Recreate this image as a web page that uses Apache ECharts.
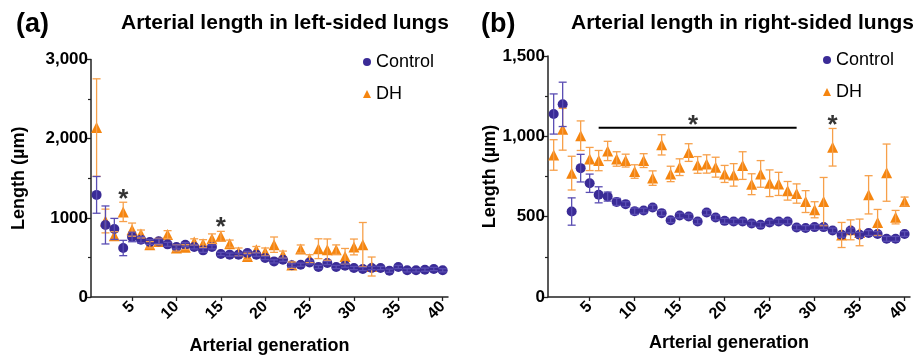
<!DOCTYPE html>
<html>
<head>
<meta charset="utf-8">
<script src="https://cdn.jsdelivr.net/npm/echarts@6/dist/echarts.min.js"></script>
<style>
  html, body { margin: 0; padding: 0; background: #fff; }
  #chart { width: 921px; height: 356px; }
</style>
</head>
<body>
<div id="chart"></div>
<script>
// arterial generations
const gens = [1, 2, 3, 4, 5, 6, 7, 8, 9, 10, 11, 12, 13, 14, 15, 16, 17, 18, 19, 20,
  21, 22, 23, 24, 25, 26, 27, 28, 29, 30, 31, 32, 33, 34, 35, 36, 37, 38, 39, 40];
const xTicks = [5, 10, 15, 20, 25, 30, 35, 40];

// (a) left-sided lungs
const leftControl = [1290, 910, 860, 619, 758, 724, 695, 703, 665, 632, 661, 632, 589, 632, 544, 535, 535, 556, 535, 493,
  450, 471, 400, 408, 437, 379, 430, 379, 396, 366, 354, 366, 366, 332, 379, 337, 337, 345, 354, 337];
const leftControlErr = [232, 240, 133, 97, 60, 40, 30, 30, 25, 25, 25, 25, 25, 25, 20, 20, 20, 20, 20, 20,
  20, 20, 20, 20, 20, 20, 20, 20, 20, 20, 20, 20, 20, 20, 20, 20, 20, 20, 20, 20];
const leftDH = [2140, 960, 775, 1075, 851, 796, 660, 700, 788, 620, 630, 695, 674, 737, 766, 674, 569, 513, 598, 569,
  661, 535, 403, 607, 484, 610, 598, 598, 513, 632, 661, 385];
const leftDHErr = [616, 150, 50, 122, 83, 50, 40, 40, 50, 40, 30, 40, 50, 60, 63, 45, 50, 40, 40, 50,
  97, 45, 40, 50, 50, 125, 135, 60, 100, 100, 280, 120];
const leftYLabels = { 0: '0', 1000: '1000', 2000: '2,000', 3000: '3,000' };
const leftStars = [[4, 1335], [15, 990]];

// (b) right-sided lungs
const rightControl = [1139, 1199, 532, 802, 708, 636, 625, 592, 578, 534, 538, 557, 522, 478, 507, 501, 470, 526, 495, 474,
  470, 470, 457, 449, 464, 470, 470, 433, 429, 435, 435, 414, 387, 414, 387, 398, 392, 362, 362, 392];
const rightControlErr = [125, 138, 85, 86, 57, 50, 28, 22, 15, 20, 15, 15, 15, 15, 15, 15, 15, 15, 15, 15,
  15, 15, 15, 15, 15, 15, 15, 15, 15, 15, 15, 15, 15, 15, 15, 15, 15, 15, 15, 15];
const rightDH = [884, 1044, 771, 1004, 859, 849, 909, 859, 849, 781, 849, 740, 947, 766, 808, 899, 822, 828, 808, 766,
  760, 818, 702, 766, 708, 704, 661, 644, 594, 543, 594, 932, 386, 418, 402, 636, 464, 774, 497, 594];
const rightDHErr = [95, 130, 105, 92, 72, 63, 60, 45, 40, 42, 43, 45, 63, 48, 52, 55, 52, 57, 62, 53,
  70, 86, 65, 83, 83, 72, 58, 60, 68, 50, 150, 117, 78, 62, 83, 119, 81, 178, 42, 28];
const rightYLabels = { 0: '0', 500: '500', 1000: '1,000', 1500: '1,500' };
const rightStars = [[16.5, 1119], [32, 1119]];
const rightBar = [[6, 1054], [28, 1054]];

const CONTROL = '#3a2b96';
const CONTROL_ERR = '#5a4db3';
const DH = '#f5850f';
const DH_ERR = '#f7a04a';
const FONT = 'Liberation Sans, Arial, sans-serif';

const chart = echarts.init(document.getElementById('chart'));

const pts = (ys) => ys.map((y, i) => [gens[i], y]);
const errs = (ys, es) => ys.map((y, i) => [gens[i], y - es[i], y + es[i]]);

function errorBars(data, color, gridIdx) {
  return {
    type: 'custom',
    xAxisIndex: gridIdx,
    yAxisIndex: gridIdx,
    z: 4,
    silent: true,
    data,
    renderItem: (params, api) => {
      const x = api.value(0);
      const lo = api.coord([x, api.value(1)]);
      const hi = api.coord([x, api.value(2)]);
      const w = 4;
      const style = { stroke: color, lineWidth: 1.3 };
      return {
        type: 'group',
        children: [
          { type: 'line', shape: { x1: lo[0], y1: lo[1], x2: hi[0], y2: hi[1] }, style },
          { type: 'line', shape: { x1: lo[0] - w, y1: lo[1], x2: lo[0] + w, y2: lo[1] }, style },
          { type: 'line', shape: { x1: hi[0] - w, y1: hi[1], x2: hi[0] + w, y2: hi[1] }, style }
        ]
      };
    }
  };
}

function xAxis(gridIdx, nameGap) {
  return {
    type: 'value',
    gridIndex: gridIdx,
    min: 0.37,
    max: 40.6,
    name: 'Arterial generation',
    nameLocation: 'middle',
    nameGap,
    nameTextStyle: { fontFamily: FONT, fontWeight: 'bold', fontSize: 18, color: '#000' },
    axisLine: { lineStyle: { color: '#222', width: 1.5 } },
    axisTick: { show: true, customValues: xTicks, length: 4, lineStyle: { color: '#222', width: 1.3 } },
    axisLabel: {
      customValues: xTicks, rotate: 45, margin: 7,
      fontFamily: FONT, fontWeight: 'bold', fontSize: 16, color: '#000'
    },
    splitLine: { show: false }
  };
}

function yAxis(gridIdx, max, interval, labels, nameGap) {
  return {
    type: 'value',
    gridIndex: gridIdx,
    min: 0,
    max,
    interval,
    name: 'Length (µm)',
    nameLocation: 'middle',
    nameGap,
    nameTextStyle: { fontFamily: FONT, fontWeight: 'bold', fontSize: 18, color: '#000' },
    axisLine: { show: true, lineStyle: { color: '#222', width: 1.5 } },
    axisTick: { show: true, length: 5, lineStyle: { color: '#222', width: 1.3 } },
    minorTick: { show: true, splitNumber: 2, length: 3, lineStyle: { color: '#222', width: 1.2 } },
    axisLabel: {
      margin: 3,
      formatter: (v) => labels[v] !== undefined ? labels[v] : '',
      fontFamily: FONT, fontWeight: 'bold', fontSize: 17, color: '#000'
    },
    splitLine: { show: false }
  };
}

function scatter(name, data, symbol, color, gridIdx, z) {
  return {
    type: 'scatter',
    name,
    xAxisIndex: gridIdx,
    yAxisIndex: gridIdx,
    symbol,
    symbolSize: symbol === 'circle' ? 10 : 11,
    itemStyle: { color, opacity: 1 },
    z,
    data
  };
}

function stars(data, gridIdx) {
  return {
    type: 'scatter',
    xAxisIndex: gridIdx,
    yAxisIndex: gridIdx,
    symbolSize: 0,
    silent: true,
    z: 5,
    label: {
      show: true, position: 'inside', formatter: '*', offset: [0, 9],
      fontFamily: FONT, fontWeight: 'bold', fontSize: 26, color: '#000'
    },
    data
  };
}

function legend(left, top) {
  return {
    left, top,
    orient: 'vertical',
    itemWidth: 8, itemHeight: 8,
    itemGap: 14,
    textStyle: { fontFamily: FONT, fontSize: 18, color: '#000' },
    data: [{ name: 'Control', icon: 'circle' }, { name: 'DH', icon: 'triangle' }],
    selectedMode: false
  };
}

const option = {
  animation: false,
  title: [
    { text: '(a)', left: 11, top: 6, textStyle: { fontFamily: FONT, fontWeight: 'bold', fontSize: 27, color: '#000' } },
    { text: 'Arterial length in left-sided lungs', left: 116, top: 8, textStyle: { fontFamily: FONT, fontWeight: 'bold', fontSize: 21, color: '#000' } },
    { text: '(b)', left: 476, top: 6, textStyle: { fontFamily: FONT, fontWeight: 'bold', fontSize: 27, color: '#000' } },
    { text: 'Arterial length in right-sided lungs', left: 566, top: 8, textStyle: { fontFamily: FONT, fontWeight: 'bold', fontSize: 21, color: '#000' } }
  ],
  legend: [legend(358, 48), legend(818, 46)],
  grid: [
    { left: 91, top: 59.5, width: 357, height: 237.5, outerBoundsMode: 'none' },
    { left: 548, top: 56, width: 362, height: 241, outerBoundsMode: 'none' }
  ],
  xAxis: [xAxis(0, 40), xAxis(1, 37)],
  yAxis: [yAxis(0, 3000, 1000, leftYLabels, 63), yAxis(1, 1500, 500, rightYLabels, 49)],
  series: [
    scatter('DH', pts(leftDH), 'triangle', DH, 0, 2),
    scatter('Control', pts(leftControl), 'circle', CONTROL, 0, 3),
    errorBars(errs(leftDH, leftDHErr), DH_ERR, 0),
    errorBars(errs(leftControl, leftControlErr), CONTROL_ERR, 0),
    stars(leftStars, 0),

    scatter('DH', pts(rightDH), 'triangle', DH, 1, 2),
    scatter('Control', pts(rightControl), 'circle', CONTROL, 1, 3),
    errorBars(errs(rightDH, rightDHErr), DH_ERR, 1),
    errorBars(errs(rightControl, rightControlErr), CONTROL_ERR, 1),
    stars(rightStars, 1),
    {
      type: 'line',
      xAxisIndex: 1,
      yAxisIndex: 1,
      symbol: 'none',
      silent: true,
      lineStyle: { color: '#000', width: 2 },
      z: 5,
      data: rightBar
    }
  ]
};

chart.setOption(option);
</script>
</body>
</html>
